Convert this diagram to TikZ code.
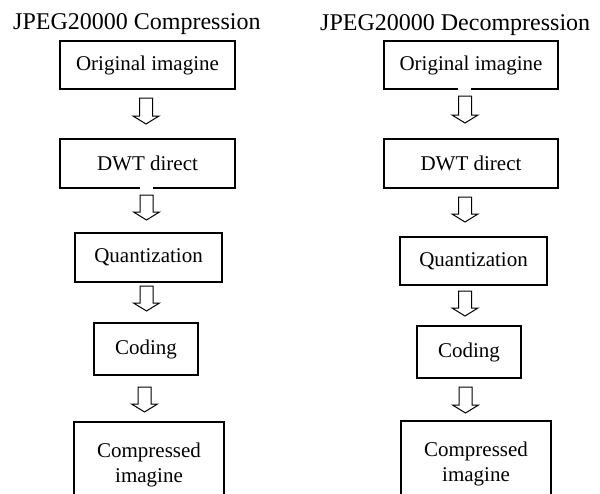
\documentclass[tikz,border=0pt]{standalone}
\usepackage{fontspec}
\setmainfont{Liberation Serif}
\newcommand\blockarrow[3]{%
  \draw[barrow] (#1-6.5,#2) -- (#1+6.5,#2) -- (#1+6.5,#3-8) -- (#1+13,#3-8)
     -- (#1,#3) -- (#1-13,#3-8) -- (#1-6.5,#3-8) -- cycle;}
\begin{document}
\begin{tikzpicture}[x=1pt,y=-1pt,
  box/.style={draw, line width=1.5pt, inner sep=0pt, align=center,
              font=\fontsize{21}{25}\selectfont},
  ttl/.style={anchor=base west, inner sep=0pt, font=\fontsize{24}{28}\selectfont},
  barrow/.style={draw, line width=1pt, fill=white, line join=miter},
  gap/.style={fill=white, draw=none}]
\useasboundingbox (0,0) rectangle (600,493);
\begin{scope}
\clip (0,0) rectangle (600,493);
% titles
\node[ttl] (tl) at (13,29) {JPEG20000 Compression};
\node[ttl] (tr) at (320,30) {JPEG20000 Decompression};
% left column
\node[box, minimum width=175pt, minimum height=48pt] (L1) at (147.5,65) {Original imagine};
\node[box, minimum width=175pt, minimum height=49pt] (L2) at (147.5,163.5) {DWT direct};
\node[box, minimum width=147pt, minimum height=49pt] (L3) at (148.5,257.5) {Quantization};
\node[box, minimum width=104pt, minimum height=52pt] (L4) at (146,349) {Coding};
\node[box, minimum width=150pt, minimum height=85pt] (L5) at (149,464.5) {Compressed\\imagine};
% right column
\node[box, minimum width=174pt, minimum height=48pt] (R1) at (471,65) {Original imagine};
\node[box, minimum width=174pt, minimum height=49pt] (R2) at (471,163.5) {DWT direct};
\node[box, minimum width=147pt, minimum height=48pt] (R3) at (473.5,261) {Quantization};
\node[box, minimum width=104pt, minimum height=52pt] (R4) at (469,352) {Coding};
\node[box, minimum width=150pt, minimum height=85pt] (R5) at (476,463.5) {Compressed\\imagine};
% small breaks in box borders
\fill[gap] (458,86) rectangle (471,91);
\fill[gap] (140,186) rectangle (153,191);
% block arrows, left
\blockarrow{146}{98}{124}
\blockarrow{146.5}{195}{220}
\blockarrow{146.5}{286}{311}
\blockarrow{144.5}{387}{412}
% block arrows, right
\blockarrow{465}{96}{123}
\blockarrow{465}{197}{222}
\blockarrow{465}{291}{316}
\blockarrow{465.5}{387}{413}
\end{scope}
\end{tikzpicture}
\end{document}
